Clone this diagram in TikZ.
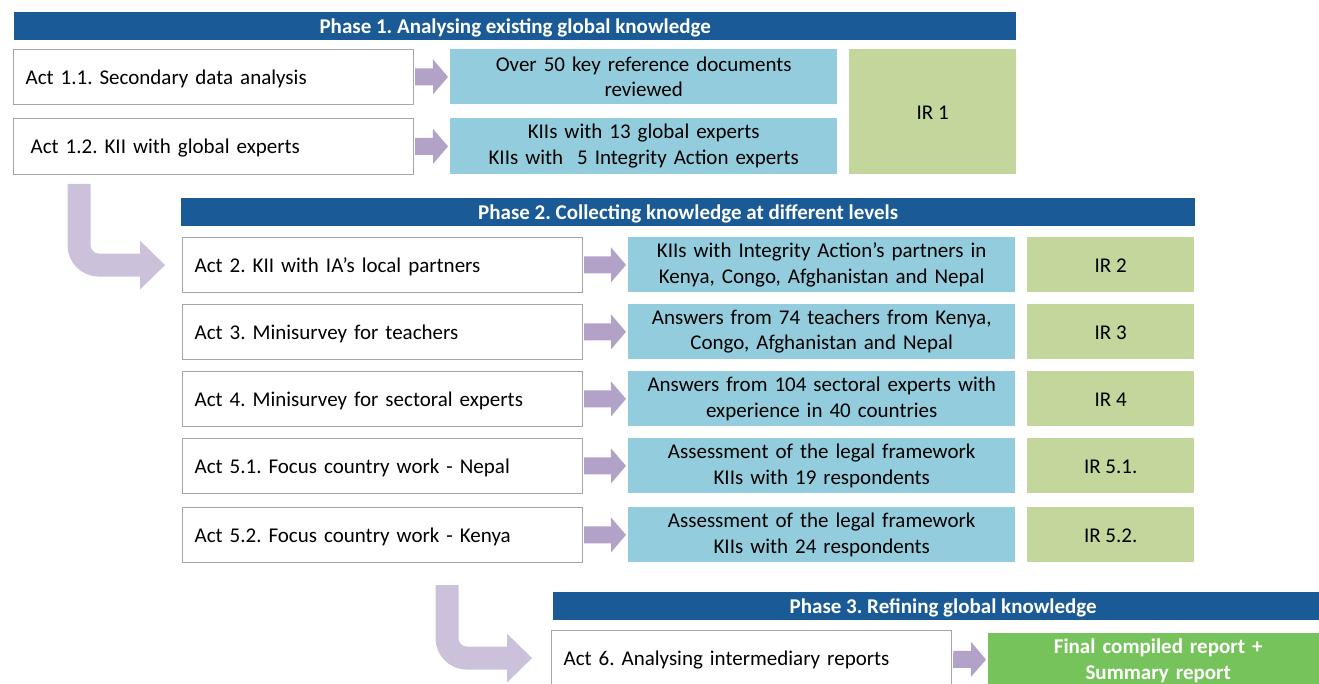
\documentclass[tikz,border=0pt]{standalone}
\usepackage{fontspec}
\setmainfont{Carlito}
\usetikzlibrary{arrows.meta}
\frenchspacing

\definecolor{phaseblue}{HTML}{1A5A96}
\definecolor{boxgray}{HTML}{A6A6A6}
\definecolor{outcyan}{HTML}{93CDDD}
\definecolor{irgreen}{HTML}{C3D69B}
\definecolor{finalgreen}{HTML}{77C35B}
\definecolor{flowpurple}{HTML}{B3A2C7}
\definecolor{turnpurple}{HTML}{CCC1DA}

\begin{document}
\begin{tikzpicture}[x=1pt,y=-1pt,font=\fontsize{21}{25.5}\selectfont,
		phase bar/.style={anchor=north west,fill=phaseblue,text=white,inner sep=0pt,
			minimum height=28pt,text height=18pt,text depth=3.5pt,
			font=\fontsize{21}{25.5}\selectfont\bfseries},
		act node/.style={anchor=north west,draw=boxgray,line width=1.2pt,fill=white,
			text width=376pt,inner xsep=12pt,inner ysep=0pt,minimum height=55pt,align=left,
			text height=18pt,text depth=3.5pt},
		out node/.style={anchor=north west,fill=outcyan,text width=387pt,inner xsep=0pt,
			inner ysep=0pt,minimum height=55pt,align=center},
		ir node/.style={anchor=north west,fill=irgreen,minimum width=167pt,minimum height=55pt,
			inner sep=0pt,text height=17pt,text depth=0.5pt},
		flow/.style={draw=flowpurple,line width=17pt,line cap=butt,
			-{Triangle[length=15pt,width=35pt,line width=0pt]},shorten >=2pt,shorten <=1pt},
		turn flow/.style={draw=turnpurple,line width=23pt,line cap=butt,rounded corners=20pt,
			-{Triangle[length=25pt,width=49pt,line width=0pt]}}]
		
		\useasboundingbox (0,0) rectangle (1319,684);
		
		% phase 1
		\node[phase bar,minimum width=1002pt] (p1) at (14,12) {Phase 1. Analysing existing global knowledge};
		\node[act node] (a11) at (13,49) {Act 1.1. Secondary data analysis};
		\node[act node,minimum height=56pt] (a12) at (13,118) {\hspace{5pt}Act 1.2. KII with global experts};
		\node[out node] (o11) at (450,49) {Over 50 key reference documents\\reviewed};
		\node[out node,minimum height=56pt] (o12) at (450,118) {KIIs with 13 global experts\\KIIs with\ \ 5 Integrity Action experts};
		\node[ir node,minimum height=125pt] (ir1) at (849,49) {IR 1};
		
		% phase 2
		\node[phase bar,minimum width=1014pt] (p2) at (181,198) {Phase 2. Collecting knowledge at different levels};
		\node[act node] (a2) at (182,237) {Act 2. KII with IA's local partners};
		\node[act node] (a3) at (182,304) {Act 3. Minisurvey for teachers};
		\node[act node] (a4) at (182,371) {Act 4. Minisurvey for sectoral experts};
		\node[act node] (a51) at (182,438) {Act 5.1. Focus country work - Nepal};
		\node[act node] (a52) at (182,507) {Act 5.2. Focus country work - Kenya};
		\node[out node] (o2) at (628,237) {KIIs with Integrity Action's partners in\\Kenya, Congo, Afghanistan and Nepal};
		\node[out node] (o3) at (628,304) {Answers from 74 teachers from Kenya,\\Congo, Afghanistan and Nepal};
		\node[out node] (o4) at (628,371) {Answers from 104 sectoral experts with\\experience in 40 countries};
		\node[out node] (o51) at (628,438) {Assessment of the legal framework\\KIIs with 19 respondents};
		\node[out node] (o52) at (628,507) {Assessment of the legal framework\\KIIs with 24 respondents};
		\node[ir node] (ir2) at (1027,237) {IR 2};
		\node[ir node] (ir3) at (1027,304) {IR 3};
		\node[ir node] (ir4) at (1027,371) {IR 4};
		\node[ir node] (ir51) at (1027,438) {IR 5.1.};
		\node[ir node] (ir52) at (1027,507) {IR 5.2.};
		
		% phase 3
		\node[phase bar,minimum width=780pt] (p3) at (553,592) {Phase 3. Refining global knowledge\hspace{12pt}};
		\node[act node] (a6) at (551,630) {Act 6. Analysing intermediary reports};
		\node[out node,fill=finalgreen,text=white,text width=340pt,font=\fontsize{21}{25.5}\selectfont\bfseries]
			(fin) at (988,633) {Final compiled report +\\Summary report\hspace{12pt}};
		
		\coordinate (t1) at (79,184);
		\coordinate (t2) at (447,585);
		
		\path (a11) edge[flow] (o11)
		(a12) edge[flow] (o12)
		(a2) edge[flow] (o2)
		(a3) edge[flow] (o3)
		(a4) edge[flow] (o4)
		(a51) edge[flow] (o51)
		(a52) edge[flow] (o52)
		(a6) edge[flow] (fin);
		
		\draw[turn flow,shorten >=17pt] (t1) |- (a2);
		\draw[turn flow,shorten >=19pt] (t2) |- (a6);
\end{tikzpicture}
\end{document}
